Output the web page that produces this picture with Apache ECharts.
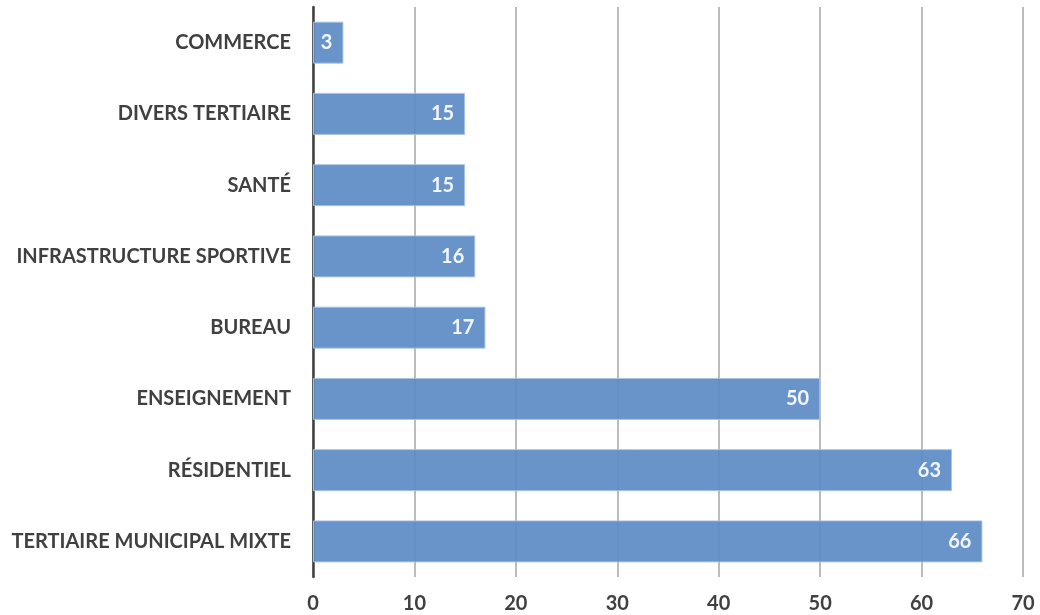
<!DOCTYPE html>
<html>
<head>
<meta charset="utf-8">
<script src="https://cdn.jsdelivr.net/npm/echarts@6/dist/echarts.min.js"></script>
<style>
  html, body { margin: 0; padding: 0; background: #fff; }
  #chart { width: 1040px; height: 615px; }
</style>
</head>
<body>
<div id="chart"></div>
<script>
// categories listed bottom to top (ECharts draws category axis from bottom)
const categories = [
  'TERTIAIRE MUNICIPAL MIXTE',
  'RÉSIDENTIEL',
  'ENSEIGNEMENT',
  'BUREAU',
  'INFRASTRUCTURE SPORTIVE',
  'SANTÉ',
  'DIVERS TERTIAIRE',
  'COMMERCE'
];
const values = [66, 63, 50, 17, 16, 15, 15, 3];

const font = 'Lato, "Open Sans", sans-serif';

const chart = echarts.init(document.getElementById('chart'));
chart.setOption({
  animation: false,
  textStyle: { fontFamily: font },
  grid: { left: 313, right: 17, top: 7, bottom: 38 },
  xAxis: {
    type: 'value',
    min: 0,
    max: 70,
    interval: 10,
    axisLine: { show: false },
    axisTick: { show: false },
    splitLine: { show: true, lineStyle: { color: '#a6a6a6', width: 1.5 } },
    axisLabel: {
      color: '#404040',
      fontSize: 20,
      fontWeight: 'bold',
      fontFamily: font,
      margin: 17
    }
  },
  yAxis: {
    type: 'category',
    data: categories,
    axisLine: { show: true, lineStyle: { color: '#404040', width: 2.5 } },
    axisTick: { show: false },
    axisLabel: {
      color: '#404040',
      fontSize: 20,
      fontWeight: 'bold',
      fontFamily: font,
      margin: 22
    }
  },
  series: [{
    type: 'bar',
    data: values,
    barWidth: 42,
    z: 1,
    itemStyle: {
      color: '#5b8bc4',
      opacity: 0.92,
      borderColor: '#a9c3e3',
      borderWidth: 1
    },
    label: {
      show: true,
      position: 'insideRight',
      distance: 11,
      color: '#ffffff',
      fontSize: 20,
      fontWeight: 'bold',
      fontFamily: font
    }
  }]
});
</script>
</body>
</html>
